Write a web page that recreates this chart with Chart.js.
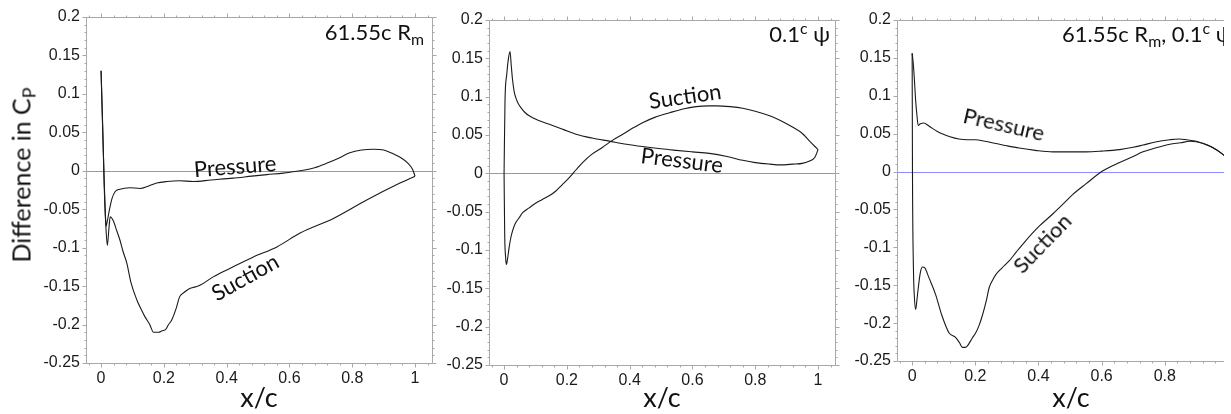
<!DOCTYPE html>
<html>
<head>
<meta charset="utf-8">
<script src="https://cdn.jsdelivr.net/npm/chart.js@4"></script>
<style>
  body { margin: 0; width: 1231px; height: 414px; overflow: hidden; background: #fff; position: relative; }
  canvas { position: absolute; top: 0; }
  .panel3 { position: absolute; left: 850px; top: 0; width: 374px; height: 414px; overflow: hidden; }
  .txt { position: absolute; font-family: Lato, sans-serif; color: #111; white-space: nowrap; line-height: 1; }
  .lbl { font-size: 22px; transform: translate(-50%, -50%) rotate(var(--r)); }
  .corner { font-size: 22px; }
  .sb { font-size: 72%; position: relative; top: 0.3em; }
  .sp { font-size: 72%; position: relative; top: -0.5em; }
  .ytitle { font-size: 25px; left: 21px; top: 175px; transform: translate(-50%, -50%) rotate(-90deg); }
</style>
</head>
<body>
<canvas id="c1" width="450" height="414" style="left:0"></canvas>
<canvas id="c2" width="410" height="414" style="left:440px"></canvas>
<div class="panel3">
  <canvas id="c3" width="410" height="414" style="left:0"></canvas>
  <div class="txt corner" style="left:212px; top:23px">61.55c R<span class="sb">m</span>, 0.1<span class="sp">c</span> ψ</div>
  <div class="txt lbl" style="left:154px; top:124px; --r:13deg">Pressure</div>
  <div class="txt lbl" style="left:192px; top:243px; --r:-46deg">Suction</div>
</div>

<div class="txt ytitle">Difference in C<span class="sb">P</span></div>
<div class="txt corner" style="right:807px; top:21px">61.55c R<span class="sb">m</span></div>
<div class="txt lbl" style="left:235px; top:166px; --r:-4.5deg">Pressure</div>
<div class="txt lbl" style="left:245px; top:277px; --r:-29deg">Suction</div>

<div class="txt corner" style="right:401px; top:23px">0.1<span class="sp">c</span> ψ</div>
<div class="txt lbl" style="left:685px; top:96px; --r:-8deg">Suction</div>
<div class="txt lbl" style="left:682px; top:160px; --r:7deg">Pressure</div>

<script>
const xTicks = [0, 0.2, 0.4, 0.6, 0.8, 1];
const xTickLabels = ['0', '0.2', '0.4', '0.6', '0.8', '1'];
const yTicks = [-0.25, -0.2, -0.15, -0.1, -0.05, 0, 0.05, 0.1, 0.15, 0.2];
const yTickLabels = ['-0.25', '-0.2', '-0.15', '-0.1', '-0.05', '0', '0.05', '0.1', '0.15', '0.2'];

// 61.55c Rm
const rmPressX = [0, 0.004, 0.009, 0.013, 0.016, 0.02, 0.027, 0.035, 0.045, 0.06, 0.09, 0.124, 0.15, 0.177, 0.21, 0.25, 0.294, 0.35, 0.42, 0.48, 0.528, 0.58, 0.634, 0.68, 0.72, 0.76, 0.79, 0.83, 0.867, 0.9, 0.93, 0.955, 0.977, 0.992, 1.0];
const rmPressY = [0.13, 0.07, 0.0, -0.05, -0.072, -0.065, -0.05, -0.036, -0.027, -0.024, -0.022, -0.023, -0.02, -0.016, -0.014, -0.013, -0.014, -0.012, -0.0096, -0.007, -0.005, -0.003, 0.0, 0.004, 0.01, 0.017, 0.023, 0.027, 0.028, 0.027, 0.022, 0.017, 0.01, 0.002, -0.007];
const rmSuctX = [0, 0.005, 0.01, 0.015, 0.02, 0.025, 0.029, 0.035, 0.04, 0.05, 0.06, 0.07, 0.082, 0.095, 0.114, 0.13, 0.14, 0.155, 0.167, 0.183, 0.195, 0.204, 0.215, 0.225, 0.24, 0.25, 0.265, 0.278, 0.3, 0.315, 0.357, 0.41, 0.485, 0.56, 0.634, 0.74, 0.846, 0.952, 1.0];
const rmSuctY = [0.13, 0.06, -0.02, -0.07, -0.097, -0.075, -0.06, -0.062, -0.066, -0.078, -0.09, -0.105, -0.12, -0.145, -0.168, -0.182, -0.19, -0.2, -0.21, -0.21, -0.208, -0.207, -0.2, -0.194, -0.178, -0.164, -0.158, -0.154, -0.151, -0.149, -0.138, -0.127, -0.112, -0.099, -0.081, -0.062, -0.038, -0.016, -0.007];

// 0.1c psi
const psiPressX = [0, 0.003, 0.0085, 0.014, 0.019, 0.023, 0.027, 0.032, 0.037, 0.045, 0.053, 0.065, 0.08, 0.11, 0.144, 0.19, 0.229, 0.28, 0.335, 0.39, 0.441, 0.5, 0.548, 0.6, 0.654, 0.71, 0.76, 0.8, 0.846, 0.88, 0.92, 0.95, 0.973, 0.99, 1.0];
const psiPressY = [0, 0.095, 0.129, 0.15, 0.159, 0.14, 0.122, 0.107, 0.099, 0.091, 0.086, 0.08, 0.075, 0.069, 0.064, 0.057, 0.051, 0.046, 0.042, 0.038, 0.035, 0.032, 0.03, 0.028, 0.026, 0.022, 0.017, 0.014, 0.012, 0.011, 0.012, 0.013, 0.016, 0.021, 0.031];
const psiSuctX = [0, 0.002, 0.005, 0.0074, 0.011, 0.016, 0.021, 0.027, 0.035, 0.048, 0.06, 0.08, 0.1, 0.122, 0.145, 0.165, 0.185, 0.207, 0.23, 0.25, 0.28, 0.314, 0.345, 0.378, 0.41, 0.441, 0.48, 0.527, 0.57, 0.612, 0.65, 0.676, 0.72, 0.76, 0.8, 0.846, 0.88, 0.92, 0.95, 0.973, 0.99, 1.0];
const psiSuctY = [0, -0.08, -0.11, -0.119, -0.112, -0.097, -0.085, -0.075, -0.066, -0.058, -0.051, -0.045, -0.039, -0.034, -0.029, -0.023, -0.015, -0.006, 0.005, 0.014, 0.025, 0.034, 0.043, 0.051, 0.059, 0.066, 0.073, 0.079, 0.084, 0.087, 0.088, 0.088, 0.087, 0.085, 0.081, 0.075, 0.069, 0.06, 0.052, 0.042, 0.035, 0.031];

// 61.55c Rm, 0.1c psi
const bothPressX = [0, 0.004, 0.008, 0.011, 0.015, 0.019, 0.026, 0.037, 0.05, 0.064, 0.08, 0.095, 0.12, 0.148, 0.175, 0.201, 0.23, 0.265, 0.3, 0.339, 0.39, 0.445, 0.5, 0.551, 0.6, 0.657, 0.7, 0.731, 0.77, 0.816, 0.845, 0.869, 0.9, 0.922, 0.95, 0.983, 1.0];
const bothPressY = [0.156, 0.14, 0.115, 0.094, 0.075, 0.061, 0.063, 0.064, 0.061, 0.057, 0.053, 0.05, 0.046, 0.043, 0.042, 0.042, 0.04, 0.037, 0.034, 0.031, 0.028, 0.026, 0.026, 0.026, 0.027, 0.029, 0.032, 0.035, 0.039, 0.042, 0.043, 0.042, 0.04, 0.037, 0.032, 0.023, 0.017];
const bothSuctX = [0, 0.001, 0.004, 0.007, 0.011, 0.015, 0.019, 0.026, 0.033, 0.04, 0.053, 0.074, 0.095, 0.117, 0.138, 0.15, 0.159, 0.168, 0.175, 0.19, 0.201, 0.212, 0.223, 0.235, 0.244, 0.255, 0.265, 0.285, 0.307, 0.33, 0.36, 0.4, 0.445, 0.48, 0.509, 0.551, 0.604, 0.657, 0.7, 0.731, 0.77, 0.816, 0.85, 0.88, 0.922, 0.95, 0.983, 1.0];
const bothSuctY = [0.156, 0.0, -0.127, -0.165, -0.182, -0.17, -0.155, -0.133, -0.126, -0.127, -0.14, -0.162, -0.191, -0.213, -0.219, -0.226, -0.232, -0.232, -0.23, -0.22, -0.213, -0.203, -0.189, -0.17, -0.153, -0.143, -0.136, -0.127, -0.118, -0.106, -0.091, -0.073, -0.056, -0.042, -0.03, -0.016, 0.001, 0.012, 0.02, 0.026, 0.031, 0.036, 0.038, 0.04, 0.037, 0.032, 0.023, 0.017];

const xMin = -0.048, xMax = 1.054;

// blue zero line, then box round the plot with outward major/minor ticks
const frame = {
  id: 'frame',
  beforeDatasetsDraw(chart) {
    const {ctx, chartArea: a, scales: {y}} = chart;
    const py = Math.round(y.getPixelForValue(0)) + 0.5;
    ctx.save();
    ctx.strokeStyle = '#8c8cff';
    ctx.lineWidth = 1;
    ctx.beginPath();
    ctx.moveTo(a.left, py);
    ctx.lineTo(a.right, py);
    ctx.stroke();
    ctx.restore();
  },
  afterDatasetsDraw(chart) {
    const {ctx, chartArea: a, scales: {x, y}} = chart;
    const L = Math.round(a.left) + 0.5, R = Math.round(a.right) + 0.5;
    const T = Math.round(a.top) + 0.5, B = Math.round(a.bottom) + 0.5;
    ctx.save();
    ctx.strokeStyle = '#a8a8a8';
    ctx.lineWidth = 1;
    ctx.beginPath();
    ctx.rect(L, T, R - L, B - T);
    for (let k = -1; k <= 26; k++) {
      const v = k * 0.04;
      if (v < x.min || v > x.max) continue;
      const px = Math.round(x.getPixelForValue(v)) + 0.5;
      const len = xTicks.some(t => Math.abs(t - v) < 1e-9) ? 4 : 2;
      ctx.moveTo(px, B); ctx.lineTo(px, B + len);
      ctx.moveTo(px, T); ctx.lineTo(px, T - len);
    }
    for (let k = -25; k <= 20; k++) {
      const py = Math.round(y.getPixelForValue(k * 0.01)) + 0.5;
      const len = k % 5 === 0 ? 4 : 2;
      ctx.moveTo(L, py); ctx.lineTo(L - len, py);
      ctx.moveTo(R, py); ctx.lineTo(R + len, py);
    }
    ctx.stroke();
    ctx.restore();
  }
};

function pts(xs, ys) {
  return xs.map((v, i) => ({x: v, y: ys[i]}));
}

function makeChart(id, box, pressX, pressY, suctX, suctY) {
  return new Chart(document.getElementById(id), {
    type: 'scatter',
    data: {
      datasets: [
        { label: 'Pressure', data: pts(pressX, pressY), showLine: true },
        { label: 'Suction', data: pts(suctX, suctY), showLine: true }
      ]
    },
    options: {
      responsive: false,
      animation: false,
      events: [],
      layout: { padding: { top: box.top, right: box.right, left: 0, bottom: 0 } },
      plugins: { legend: { display: false }, tooltip: { enabled: false } },
      elements: {
        point: { radius: 0 },
        line: { borderWidth: 1.1, borderColor: '#1a1a1a', cubicInterpolationMode: 'monotone' }
      },
      scales: {
        x: {
          type: 'linear',
          min: xMin,
          max: xMax,
          afterBuildTicks: s => { s.ticks = xTicks.map(v => ({value: v})); },
          afterFit: s => { s.height = box.xh; },
          grid: { display: false, drawTicks: false },
          border: { display: false },
          ticks: {
            callback: v => xTickLabels[xTicks.indexOf(v)],
            color: '#1a1a1a',
            font: { family: 'Liberation Sans', size: 16 },
            padding: 6,
            maxRotation: 0,
            autoSkip: false
          },
          title: {
            display: true,
            text: 'x/c',
            color: '#111',
            font: { family: 'Lato', size: 27 },
            padding: { top: 0, bottom: 0 }
          }
        },
        y: {
          type: 'linear',
          min: -0.25,
          max: 0.2,
          afterBuildTicks: s => { s.ticks = yTicks.map(v => ({value: v})); },
          afterFit: s => { s.width = box.yw; },
          grid: { display: false, drawTicks: false },
          border: { display: false },
          ticks: {
            callback: v => yTickLabels[yTicks.indexOf(v)],
            color: '#1a1a1a',
            font: { family: 'Liberation Sans', size: 16 },
            padding: 6,
            autoSkip: false
          }
        }
      }
    },
    plugins: [frame]
  });
}

makeChart('c1', { yw: 86, xh: 51, top: 17, right: 18 }, rmPressX, rmPressY, rmSuctX, rmSuctY);
makeChart('c2', { yw: 49, xh: 49, top: 20, right: 15 }, psiPressX, psiPressY, psiSuctX, psiSuctY);
makeChart('c3', { yw: 47, xh: 53, top: 20, right: 15 }, bothPressX, bothPressY, bothSuctX, bothSuctY);
</script>
</body>
</html>
